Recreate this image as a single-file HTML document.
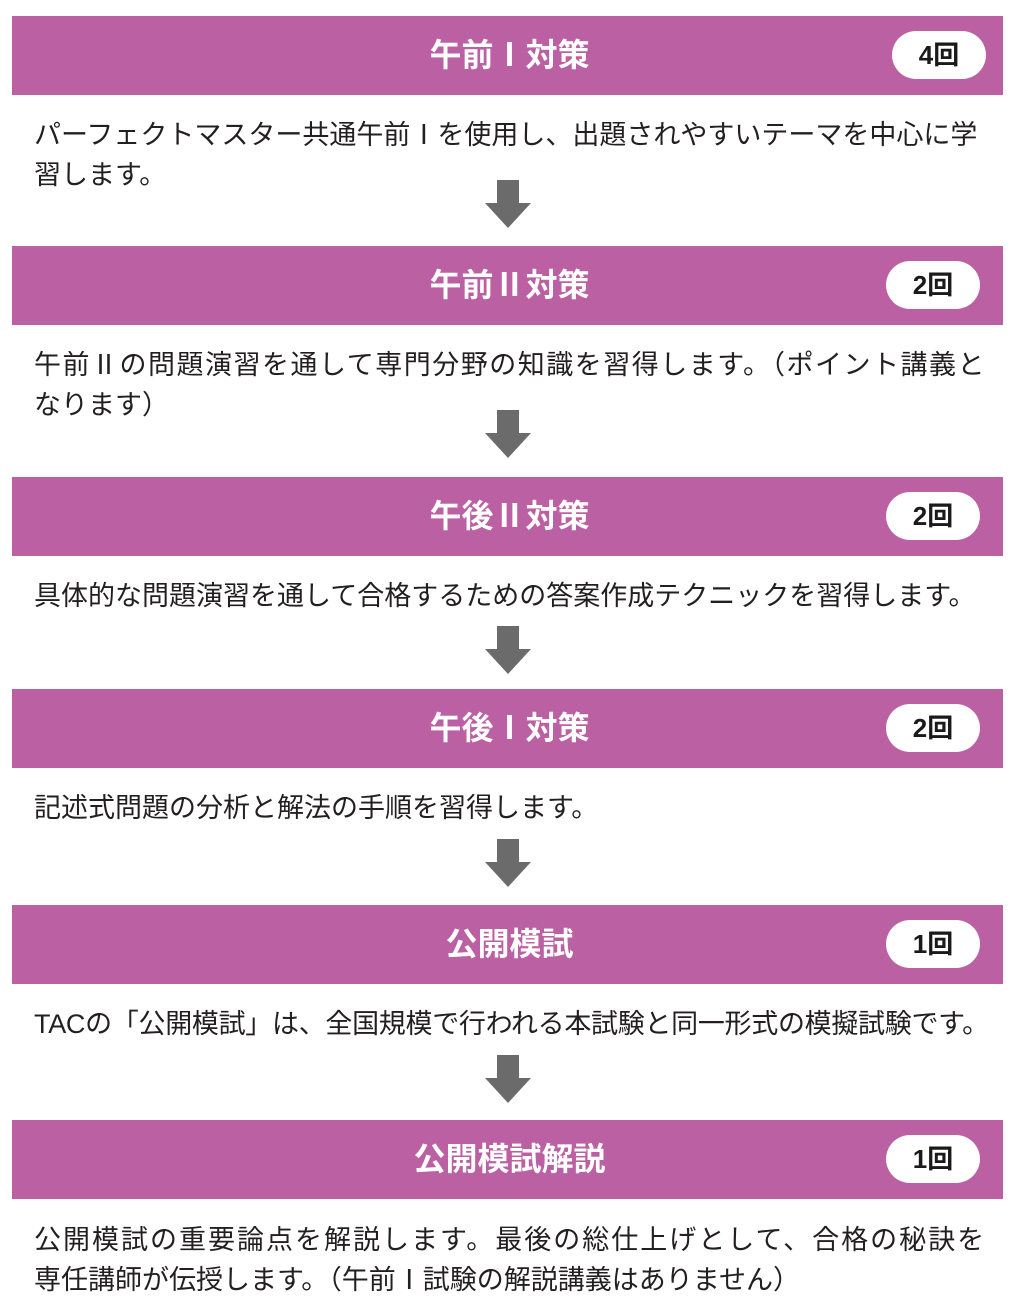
<!DOCTYPE html>
<html><head><meta charset="utf-8"><style>
body{margin:0;width:1019px;height:1316px;background:#fff;position:relative;overflow:hidden;font-family:"Liberation Sans","Noto Sans CJK JP",sans-serif}
.bar{position:absolute;left:12px;width:991px;height:79px;background:#bc60a4}
.t{position:absolute;left:0;width:1019px;text-align:center;color:#fff;font-weight:bold;font-size:32px;line-height:79px;top:0;margin-left:-12px}
.pill{position:absolute;width:94px;height:48px;border-radius:24px;background:#fff;top:15px;left:874px;text-align:center;line-height:48px;font-weight:bold;font-size:26px;color:#1a1a1a}
.b{position:absolute;left:34px;font-size:27px;line-height:40px;color:#231f20;white-space:nowrap;letter-spacing:0px}
.ar{position:absolute;left:485px;width:46px;height:48px}
</style></head><body>
<div class="bar" style="top:16px"><div class="t">午前Ⅰ対策</div><div class="pill" style="left:880px">4回</div></div>
<div class="b" style="top:115px">パーフェクトマスター共通午前Ⅰを使用し、出題されやすいテーマを中心に学<br>習します。</div>
<svg class="ar" style="top:180px" viewBox="0 0 46 48"><path d="M12 0H34V23H46L23 48L0 23H12Z" fill="#6b6b6b"/></svg>

<div class="bar" style="top:246px"><div class="t">午前Ⅱ対策</div><div class="pill">2回</div></div>
<div class="b" style="top:345px"><span style="letter-spacing:1.5px">午前Ⅱの問題演習を通して専門分野の知識を習得します。（ポイント講義と</span><br>なります）</div>
<svg class="ar" style="top:410px" viewBox="0 0 46 48"><path d="M12 0H34V23H46L23 48L0 23H12Z" fill="#6b6b6b"/></svg>

<div class="bar" style="top:477px"><div class="t">午後Ⅱ対策</div><div class="pill">2回</div></div>
<div class="b" style="top:576px">具体的な問題演習を通して合格するための答案作成テクニックを習得します。</div>
<svg class="ar" style="top:626px" viewBox="0 0 46 48"><path d="M12 0H34V23H46L23 48L0 23H12Z" fill="#6b6b6b"/></svg>

<div class="bar" style="top:689px"><div class="t">午後Ⅰ対策</div><div class="pill">2回</div></div>
<div class="b" style="top:788px">記述式問題の分析と解法の手順を習得します。</div>
<svg class="ar" style="top:839px" viewBox="0 0 46 48"><path d="M12 0H34V23H46L23 48L0 23H12Z" fill="#6b6b6b"/></svg>

<div class="bar" style="top:905px"><div class="t">公開模試</div><div class="pill">1回</div></div>
<div class="b" style="top:1004px;letter-spacing:-0.3px">TACの「公開模試」は、全国規模で行われる本試験と同一形式の模擬試験です。</div>
<svg class="ar" style="top:1055px" viewBox="0 0 46 48"><path d="M12 0H34V23H46L23 48L0 23H12Z" fill="#6b6b6b"/></svg>

<div class="bar" style="top:1120px"><div class="t">公開模試解説</div><div class="pill">1回</div></div>
<div class="b" style="top:1220px"><span style="letter-spacing:2px">公開模試の重要論点を解説します。最後の総仕上げとして、合格の秘訣を</span><br>専任講師が伝授します。（午前Ⅰ試験の解説講義はありません）</div>
</body></html>
